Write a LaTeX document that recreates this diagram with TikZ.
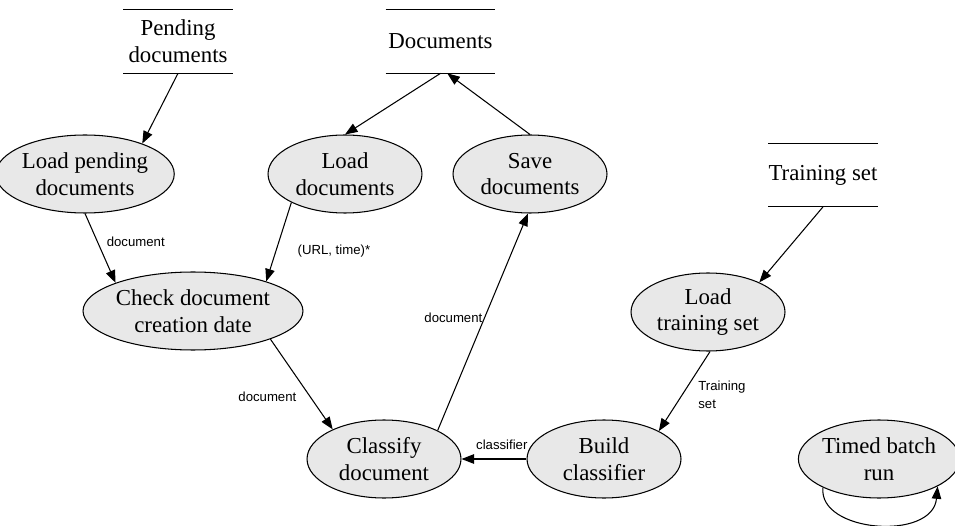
\documentclass[tikz,border=0pt]{standalone}
\usepackage{fontspec}
\setmainfont{Liberation Serif}
\newfontfamily\labelfont{Liberation Sans}
\usetikzlibrary{arrows.meta,shapes.geometric}
\definecolor{procfill}{RGB}{232,232,232}

\begin{document}
\begin{tikzpicture}[x=0.02cm, y=-0.02cm, font=\fontsize{13}{15.3}\selectfont,
  proc/.style={draw, fill=procfill, ellipse, line width=0.6pt, minimum width=3.08cm, minimum height=1.56cm, inner sep=0pt, align=center},
  store/.style={minimum width=2.18cm, minimum height=1.26cm, inner sep=0pt, align=center},
  flow/.style={-{Triangle[length=2.5mm, width=1.9mm]}, line width=0.6pt},
  lbl/.style={font=\labelfont\fontsize{7.5}{10.2}\selectfont, inner sep=1pt}]
\useasboundingbox (0,0) rectangle (955,526);
% data stores
\node[store] (pend) at (178,41.5) {Pending\\documents};
\node[store] (docs) at (440.5,41.5) {Documents};
\node[store] (train) at (823,175) {Training set};
\foreach \s in {pend,docs,train}
  \draw[line width=0.6pt] (\s.north west) -- (\s.north east) (\s.south west) -- (\s.south east);
% processes
\node[proc] (loadpend) at (85,174) {Load pending\\documents};
\node[proc] (loaddocs) at (345,174) {Load\\documents};
\node[proc] (savedocs) at (530,174) {Save\\documents};
\node[proc, minimum width=4.4cm] (check) at (193,311) {Check document\\creation date};
\node[proc] (classify) at (384,459) {Classify\\document};
\node[proc] (build) at (604,459) {Build\\classifier};
\node[proc] (loadtrain) at (708,312) {Load\\training set};
\node[proc] (timed) at (879,459) {Timed batch\\run};
% flows
\draw[flow] (pend.south) -- (loadpend.28);
\draw[flow] (docs.south) -- (loaddocs.north);
\draw[flow] (savedocs.north) -- (docs.-78);
\draw[flow] (loadpend.south) -- node[lbl, pos=.41, anchor=west, xshift=0.14cm] {document} (check.160);
\draw[flow] (loaddocs.208) -- node[lbl, pos=.615, anchor=west, xshift=0.39cm] {(URL, time)*} (check.22);
\draw[flow] (check.-20) -- node[lbl, pos=.637, anchor=east, xshift=-0.23cm] {document} (classify.150);
\draw[flow] (classify.28) -- node[lbl, pos=.52, anchor=east] {document} (savedocs.-93);
\draw[flow] (build.west) -- node[lbl, pos=.38, anchor=base, yshift=0.19cm] {classifier} (classify.east);
\draw[flow] (train.south) -- (loadtrain.30);
\draw[flow] (loadtrain.-87) -- node[lbl, pos=.547, anchor=west, align=left, xshift=0.28cm] {Training\\set} (build.27);
\draw[flow] (timed.207) .. controls +(-5,45) and +(-5,55) .. (timed.-25);
\end{tikzpicture}
\end{document}
